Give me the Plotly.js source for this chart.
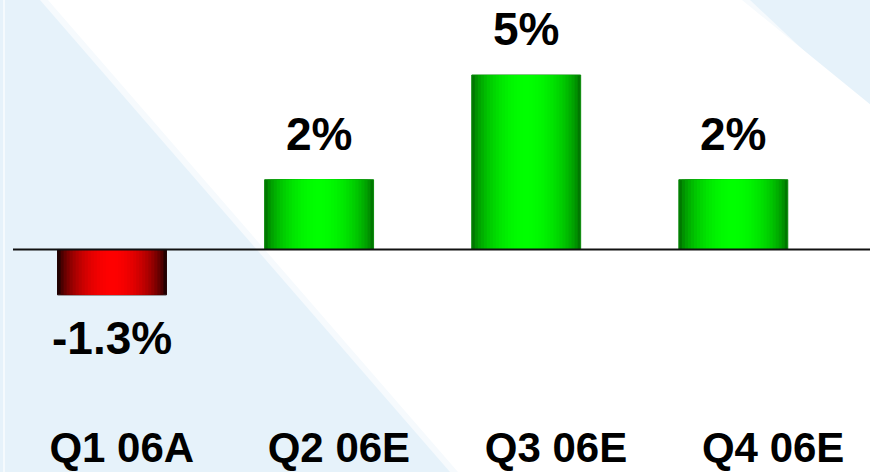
<!DOCTYPE html>
<html>
<head>
<meta charset="utf-8">
<script src="https://cdn.plot.ly/plotly-3.0.1.min.js"></script>
<style>
html,body{margin:0;padding:0;background:#e6f2fa;}
#chart{width:870px;height:472px;}
</style>
</head>
<body>
<div id="chart"></div>
<script>
// ---- data ----
const categories = ['Q1 06A', 'Q2 06E', 'Q3 06E', 'Q4 06E'];
const growth = [-1.3, 2, 5, 2];
const valueLabels = ['-1.3%', '2%', '5%', '2%'];

// ---- styling ----
const W = 870, H = 472;
const M = {l: 13, r: 0, t: 0, b: 53};
const PW = W - M.l - M.r, PH = H - M.t - M.b;
const BAR_W = 0.526;
const N_LAYERS = 18;
const posEdge = [0, 120, 0], posCenter = [0, 255, 0];
const negEdge = [35, 0, 0], negCenter = [255, 0, 0];

function mix(a, b, s) {
  return 'rgb(' + a.map((v, k) => Math.round(v + (b[k] - v) * s)).join(',') + ')';
}

const traces = [];
for (let i = 0; i < N_LAYERS; i++) {
  const d = 1 - i / N_LAYERS;          // distance from bar centre (1 = edge)
  const s = Math.pow(Math.max(0, 1 - d * d), 0.75);
  traces.push({
    type: 'bar',
    x: categories,
    y: growth,
    width: BAR_W * d,
    marker: {
      color: growth.map(v => v >= 0 ? mix(posEdge, posCenter, s) : mix(negEdge, negCenter, s)),
      line: i === 0 ? {width: 1, color: growth.map(v => v >= 0 ? '#0a8a0a' : '#200000')} : {width: 0}
    },
    hoverinfo: 'skip',
    showlegend: false
  });
}
// helper trace carrying the category labels axis
traces.push({
  type: 'scatter', mode: 'markers', x: categories, y: growth,
  xaxis: 'x2', yaxis: 'y', marker: {opacity: 0}, hoverinfo: 'skip', showlegend: false
});

// background band (pixel -> paper)
const px = x => (x - M.l) / PW;
const py = y => (H - M.b - y) / PH;
function bandPath(dx) {
  return `M ${px(40 + dx)} ${py(0)} L ${px(750 - dx)} ${py(0)} L ${px(870)} ${py(113 - dx * 1.1)} L ${px(870)} ${py(472)} L ${px(450 + dx)} ${py(472)} Z`;
}

const catFont = {family: 'Liberation Sans, Arial, sans-serif', size: 42, color: '#000', weight: 'bold'};
const valFont = {family: 'Liberation Sans, Arial, sans-serif', size: 46, color: '#000', weight: 'bold'};

const annotations = categories.map((c, i) => ({
  x: c, y: growth[i], xref: 'x', yref: 'y',
  text: valueLabels[i], showarrow: false,
  yanchor: 'middle', xanchor: 'center',
  yshift: growth[i] >= 0 ? 46 : -43,
  font: valFont
}));

const layout = {
  width: W, height: H,
  margin: M,
  paper_bgcolor: '#e6f2fa',
  plot_bgcolor: 'rgba(0,0,0,0)',
  barmode: 'overlay',
  showlegend: false,
  xaxis: {
    type: 'category', range: [-0.478, 3.660],
    showticklabels: false, showgrid: false, zeroline: false, showline: false, ticks: ''
  },
  xaxis2: {
    type: 'category', overlaying: 'x', anchor: 'y', side: 'bottom',
    range: [-0.501, 3.446],
    showgrid: false, zeroline: false, showline: false, ticks: '',
    tickfont: catFont
  },
  yaxis: {
    range: [-4.857, 7.149],
    showticklabels: false, showgrid: false, zeroline: false, showline: false, ticks: ''
  },
  shapes: [
    {type: 'path', xref: 'paper', yref: 'paper', path: bandPath(0),
     fillcolor: 'rgba(246,250,253,1)', line: {width: 0}, layer: 'below'},
    {type: 'path', xref: 'paper', yref: 'paper', path: bandPath(8),
     fillcolor: '#ffffff', line: {width: 0}, layer: 'below'},
    {type: 'line', xref: 'paper', yref: 'paper', x0: px(4), x1: px(4), y0: py(0), y1: py(472),
     line: {color: 'rgba(255,255,255,0.8)', width: 1.5}, layer: 'below'},
    {type: 'line', xref: 'paper', yref: 'y', x0: 0, x1: 1, y0: 0, y1: 0,
     line: {color: '#111111', width: 2}, layer: 'above'}
  ],
  annotations: annotations
};

Plotly.newPlot('chart', traces, layout, {displayModeBar: false, staticPlot: true});
</script>
</body>
</html>
